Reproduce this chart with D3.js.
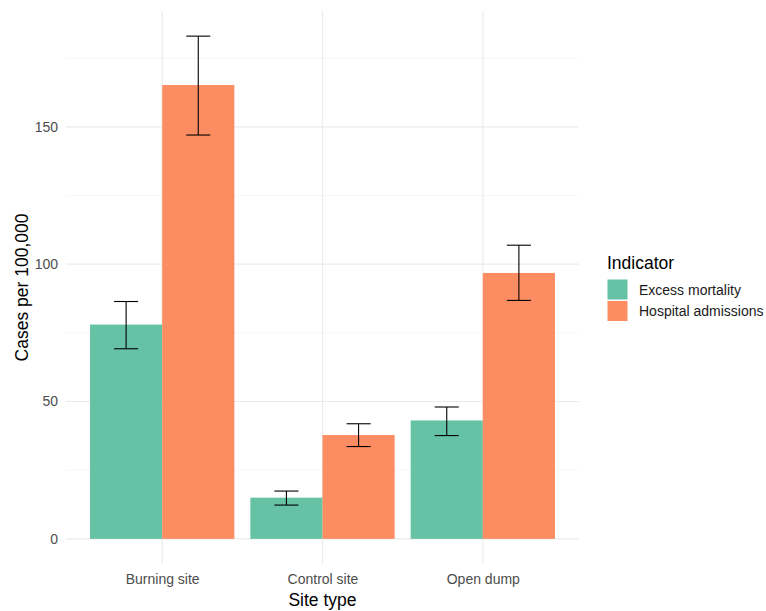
<!DOCTYPE html>
<html>
<head>
<meta charset="utf-8">
<script src="https://cdn.jsdelivr.net/npm/d3@7"></script>
<style>
  body { margin: 0; background: #fff; }
  text { font-family: "Liberation Sans", Arial, sans-serif; }
</style>
</head>
<body>
<svg id="chart" width="766" height="611"></svg>
<script>
// Site types and indicators
const sites = ["Burning site", "Control site", "Open dump"];
const indicators = ["Excess mortality", "Hospital admissions"];

// Rates per 100,000 with lower / upper interval bounds
const mortality      = [78.0, 15.0, 43.1];
const mortalityLow   = [69.2, 12.3, 37.6];
const mortalityHigh  = [86.4, 17.4, 48.0];
const admissions     = [165.2, 37.8, 96.8];
const admissionsLow  = [147.0, 33.6, 86.8];
const admissionsHigh = [183.0, 41.9, 106.9];

const yTicks = [0, 50, 100, 150];
const yMinor = [25, 75, 125, 175];
const colors = ["#66c2a5", "#fc8d62"];

const rows = [];
sites.forEach((s, i) => {
  rows.push({ site: s, ind: indicators[0], v: mortality[i], lo: mortalityLow[i], hi: mortalityHigh[i] });
  rows.push({ site: s, ind: indicators[1], v: admissions[i], lo: admissionsLow[i], hi: admissionsHigh[i] });
});

const svg = d3.select("#chart");
const panel = { left: 66, right: 579, top: 11, bottom: 564 };

// discrete x with 0.6 unit padding on each side
const x = d3.scalePoint().domain(sites).range([panel.left, panel.right]).padding(0.6);
const unit = x.step();
const xSub = d3.scaleBand().domain(indicators).range([-0.45 * unit, 0.45 * unit]);

const yMax = d3.max(rows, d => d.hi);
const y = d3.scaleLinear().domain([-0.05 * yMax, yMax * 1.05]).range([panel.bottom, panel.top]);

const g = svg.append("g");

// grid
g.selectAll(".minor").data(yMinor).join("line")
  .attr("x1", panel.left).attr("x2", panel.right)
  .attr("y1", d => y(d)).attr("y2", d => y(d))
  .attr("stroke", "#f3f3f3").attr("stroke-width", 0.7);
g.selectAll(".major").data(yTicks).join("line")
  .attr("x1", panel.left).attr("x2", panel.right)
  .attr("y1", d => y(d)).attr("y2", d => y(d))
  .attr("stroke", "#ebebeb").attr("stroke-width", 1.2);
g.selectAll(".vmajor").data(sites).join("line")
  .attr("x1", d => x(d)).attr("x2", d => x(d))
  .attr("y1", panel.top).attr("y2", panel.bottom)
  .attr("stroke", "#ebebeb").attr("stroke-width", 1.2);

// bars
g.selectAll(".bar").data(rows).join("rect")
  .attr("x", d => x(d.site) + xSub(d.ind))
  .attr("width", xSub.bandwidth())
  .attr("y", d => y(d.v))
  .attr("height", d => y(0) - y(d.v))
  .attr("fill", d => colors[indicators.indexOf(d.ind)]);

// error bars
const cap = 0.075 * unit;
const eb = g.selectAll(".eb").data(rows).join("g")
  .attr("transform", d => `translate(${x(d.site) + xSub(d.ind) + xSub.bandwidth() / 2},0)`);
eb.append("line").attr("x1", 0).attr("x2", 0)
  .attr("y1", d => y(d.lo)).attr("y2", d => y(d.hi))
  .attr("stroke", "#000").attr("stroke-width", 1.1);
eb.append("line").attr("x1", -cap).attr("x2", cap)
  .attr("y1", d => y(d.lo)).attr("y2", d => y(d.lo))
  .attr("stroke", "#000").attr("stroke-width", 1.1);
eb.append("line").attr("x1", -cap).attr("x2", cap)
  .attr("y1", d => y(d.hi)).attr("y2", d => y(d.hi))
  .attr("stroke", "#000").attr("stroke-width", 1.1);

// axes text
const yAxis = d3.axisLeft(y).tickValues(yTicks).tickSize(0).tickPadding(8);
svg.append("g").attr("transform", `translate(${panel.left},0)`).call(yAxis)
  .call(s => s.select(".domain").remove())
  .selectAll("text").attr("fill", "#4d4d4d").style("font-size", "14px")
  .attr("font-family", "Liberation Sans, Arial, sans-serif");

const xAxis = d3.axisBottom(x).tickSize(0).tickPadding(10);
svg.append("g").attr("transform", `translate(0,${panel.bottom})`).call(xAxis)
  .call(s => s.select(".domain").remove())
  .selectAll("text").attr("fill", "#4d4d4d").style("font-size", "14px")
  .attr("font-family", "Liberation Sans, Arial, sans-serif");

svg.append("text")
  .attr("x", (panel.left + panel.right) / 2).attr("y", 606)
  .attr("text-anchor", "middle").style("font-size", "17.5px").attr("fill", "#000")
  .text("Site type");

svg.append("text")
  .attr("transform", `translate(28,${(panel.top + panel.bottom) / 2}) rotate(-90)`)
  .attr("text-anchor", "middle").style("font-size", "17.5px").attr("fill", "#000")
  .text("Cases per 100,000");

// legend
const lg = svg.append("g").attr("transform", "translate(607,0)");
lg.append("text").attr("x", 0).attr("y", 269).style("font-size", "17.5px").attr("fill", "#000").text("Indicator");
const item = lg.selectAll(".item").data(indicators).join("g")
  .attr("transform", (d, i) => `translate(0,${279 + i * 21.5})`);
item.append("rect").attr("x", 0.5).attr("y", 0.5).attr("width", 20).attr("height", 20)
  .attr("fill", (d, i) => colors[i]);
item.append("text").attr("x", 32).attr("y", 15.5).style("font-size", "14px").attr("fill", "#1a1a1a")
  .text(d => d);
</script>
</body>
</html>
